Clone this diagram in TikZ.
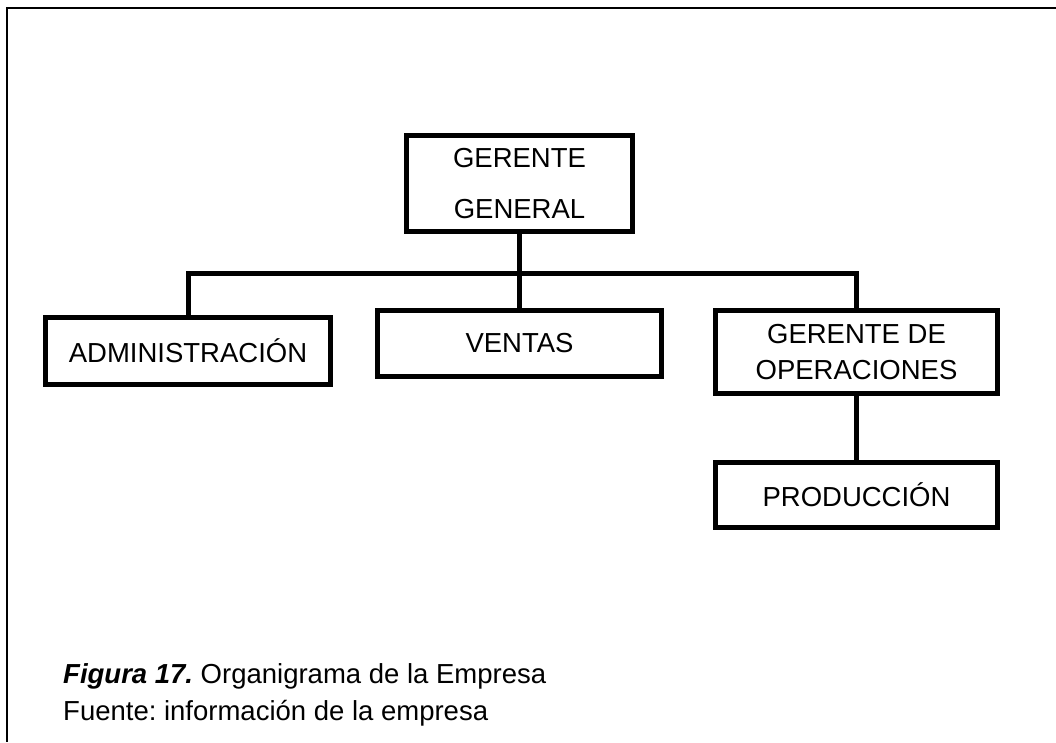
\documentclass[tikz,border=0pt]{standalone}
\usepackage{fontspec}
\setmainfont{Liberation Sans}
\frenchspacing
\begin{document}
\begin{tikzpicture}[x=1pt,y=-1pt,
  box/.style={draw=black, line width=5pt, rectangle, inner sep=0pt, align=center,
    font=\fontsize{27.5}{36}\selectfont},
  conn/.style={draw=black, line width=5pt},
  frameline/.style={draw=black, line width=2.5pt}]
\useasboundingbox (0,0) rectangle (1056,742);
\fill[white] (0,0) rectangle (1056,742);
% frame
\coordinate (fTL) at (7,8);
\coordinate (fTR) at (1056,8);
\coordinate (fBL) at (7,742);
\draw[frameline] (fTR) -- (fTL) -- (fBL);
% boxes
\node[box, minimum width=226pt, minimum height=96pt,
  font=\fontsize{27.5}{51}\selectfont] (gg) at (519.5,183.5) {GERENTE\\GENERAL};
\node[box, minimum width=285pt, minimum height=67pt] (adm) at (188,351) {ADMINISTRACIÓN};
\node[box, minimum width=284pt, minimum height=66pt] (ven) at (519.5,343.5) {VENTAS};
\node[box, minimum width=282pt, minimum height=83pt] (gop) at (856.5,352) {GERENTE DE\\OPERACIONES};
\node[box, minimum width=282pt, minimum height=65pt] (pro) at (856.5,495) {PRODUCCIÓN};
% connectors
\coordinate (bus) at (519.5,273);
\draw[conn] (gg.south) -- (ven.north);
\draw[conn, line join=miter] (adm.north) |- (bus) -| (gop.north);
\draw[conn] (gop.south) -- (pro.north);
% caption
\node[anchor=base west, inner sep=0pt, font=\fontsize{27.5}{33}\selectfont] (cap1) at (63,683)
  {\textbf{\textit{Figura 17.}} Organigrama de la Empresa};
\node[anchor=base west, inner sep=0pt, font=\fontsize{27.5}{33}\selectfont] (cap2) at (63,720)
  {Fuente: información de la empresa};
\end{tikzpicture}
\end{document}
